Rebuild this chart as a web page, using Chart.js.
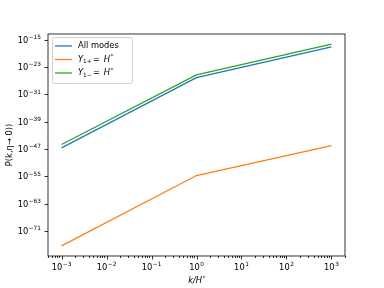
<!DOCTYPE html>
<html>
<head>
<meta charset="utf-8">
<script src="https://cdn.jsdelivr.net/npm/chart.js@4.4.1/dist/chart.umd.min.js"></script>
<style>
  html, body { margin: 0; padding: 0; background: #fff; }
  canvas { display: block; }
</style>
</head>
<body>
<canvas id="chart" width="384" height="288"></canvas>
<script>
// k/H* values
const kValues = [1e-3, 1, 1e3];
// power spectrum
const allModes = [2.0e-47, 7.9e-27, 7.9e-18];
const y1Plus = [4.0e-76, 1.6e-55, 1.0e-46];
const y1Minus = [2.0e-46, 5.0e-26, 5.0e-17];

const xTickExps = [-3, -2, -1, 0, 1, 2, 3];
const yTickExps = [-15, -23, -31, -39, -47, -55, -63, -71];

const FONT = 'DejaVu Sans';
const FS = 8.3;
const SFS = FS * 0.7;

const toPoints = ys => kValues.map((k, i) => ({ x: k, y: ys[i] }));

// "10^e" the way mathtext lays it out; align: 'right' or 'center'
function drawPow(ctx, e, x, y, align) {
  const exp = String(e).replace('-', '\u2212');
  ctx.font = FS + 'px ' + FONT;
  const wb = ctx.measureText('10').width;
  ctx.font = SFS + 'px ' + FONT;
  const we = ctx.measureText(exp).width;
  const w = wb + we + 0.5;
  let x0 = align === 'right' ? x - w : x - w / 2;
  ctx.textAlign = 'left';
  ctx.textBaseline = 'middle';
  ctx.font = FS + 'px ' + FONT;
  ctx.fillText('10', x0, y);
  ctx.font = SFS + 'px ' + FONT;
  ctx.fillText(exp, x0 + wb + 0.5, y - 3.2);
}

// matplotlib-like frame, ticks, labels, titles and legend
const mplPlugin = {
  id: 'mpl',
  afterDraw(chart) {
    const { ctx, chartArea: a } = chart;
    const xs = chart.scales.x, ys = chart.scales.y;
    ctx.save();
    ctx.strokeStyle = '#000';
    ctx.lineWidth = 0.8;
    ctx.strokeRect(a.left, a.top, a.right - a.left, a.bottom - a.top);

    // x ticks, major + minor
    ctx.beginPath();
    for (let e = -4; e <= 3; e++) {
      for (let m = 1; m <= 9; m++) {
        const v = m * Math.pow(10, e);
        if (v < xs.min || v > xs.max) continue;
        const px = Math.round(xs.getPixelForValue(v)) + 0.5;
        const len = m === 1 ? 3.5 : 2;
        ctx.moveTo(px, a.bottom);
        ctx.lineTo(px, a.bottom + len);
      }
    }
    yTickExps.forEach(e => {
      const py = Math.round(ys.getPixelForValue(Math.pow(10, e))) + 0.5;
      ctx.moveTo(a.left, py);
      ctx.lineTo(a.left - 3.5, py);
    });
    ctx.stroke();

    // tick labels
    ctx.fillStyle = '#000';
    xTickExps.forEach(e => {
      drawPow(ctx, e, xs.getPixelForValue(Math.pow(10, e)), a.bottom + 12, 'center');
    });
    yTickExps.forEach(e => {
      drawPow(ctx, e, a.left - 7, ys.getPixelForValue(Math.pow(10, e)) + 1, 'right');
    });

    // axis titles
    ctx.textBaseline = 'middle';
    ctx.font = 'italic ' + FS + 'px ' + FONT;
    const xt1 = 'k/H';
    const w1 = ctx.measureText(xt1).width;
    ctx.font = SFS + 'px ' + FONT;
    const w2 = ctx.measureText('*').width;
    let cx = (a.left + a.right) / 2 - (w1 + w2) / 2;
    ctx.textAlign = 'left';
    ctx.font = 'italic ' + FS + 'px ' + FONT;
    ctx.fillText(xt1, cx, 281);
    ctx.font = SFS + 'px ' + FONT;
    ctx.fillText('*', cx + w1 + 0.5, 278);

    ctx.save();
    ctx.translate(10, (a.top + a.bottom) / 2);
    ctx.rotate(-Math.PI / 2);
    ctx.textAlign = 'center';
    ctx.font = FS + 'px ' + FONT;
    ctx.fillText('P(k,\u03B7\u2192 0))', 0, 0);
    ctx.restore();

    // legend
    const lx = a.left + 4, ly = a.top + 3;
    ctx.fillStyle = 'rgba(255,255,255,0.8)';
    ctx.strokeStyle = '#d0d0d0';
    ctx.lineWidth = 1;
    ctx.beginPath();
    ctx.roundRect(lx + 0.5, ly + 0.5, 80, 46, 2);
    ctx.fill();
    ctx.stroke();
    chart.data.datasets.forEach((ds, i) => {
      const y = ly + 9 + i * 13.5;
      ctx.strokeStyle = ds.borderColor;
      ctx.lineWidth = 1.25;
      ctx.beginPath();
      ctx.moveTo(lx + 3, y);
      ctx.lineTo(lx + 20, y);
      ctx.stroke();
      ctx.fillStyle = '#000';
      ctx.textAlign = 'left';
      ctx.textBaseline = 'middle';
      let tx = lx + 26;
      if (i === 0) {
        ctx.font = FS + 'px ' + FONT;
        ctx.fillText(ds.label, tx, y);
      } else {
        ctx.font = 'italic ' + FS + 'px ' + FONT;
        ctx.fillText('Y', tx, y);
        tx += ctx.measureText('Y').width;
        ctx.font = SFS + 'px ' + FONT;
        const sub = i === 1 ? '1+' : '1\u2212';
        ctx.fillText(sub, tx, y + 2);
        tx += ctx.measureText(sub).width + 1.5;
        ctx.font = FS + 'px ' + FONT;
        ctx.fillText('=', tx, y);
        tx += ctx.measureText('= ').width + 1;
        ctx.font = 'italic ' + FS + 'px ' + FONT;
        ctx.fillText('H', tx, y);
        tx += ctx.measureText('H').width + 0.5;
        ctx.font = SFS + 'px ' + FONT;
        ctx.fillText('*', tx, y - 3);
      }
    });
    ctx.restore();
  }
};

new Chart(document.getElementById('chart'), {
  type: 'line',
  data: {
    datasets: [
      { label: 'All modes', data: toPoints(allModes), borderColor: '#1f77b4' },
      { label: 'Y1+ = H*', data: toPoints(y1Plus), borderColor: '#ff7f0e' },
      { label: 'Y1- = H*', data: toPoints(y1Minus), borderColor: '#2ca02c' },
    ],
  },
  options: {
    responsive: false,
    animation: false,
    devicePixelRatio: 1,
    layout: { padding: { top: 34, right: 39, left: 0, bottom: 0 } },
    elements: {
      point: { radius: 0 },
      line: { borderWidth: 1.25, tension: 0, fill: false },
    },
    plugins: { legend: { display: false }, tooltip: { enabled: false } },
    scales: {
      x: {
        type: 'logarithmic',
        position: 'bottom',
        bounds: 'data',
        min: 5.0e-4,
        max: 2.0e3,
        afterFit: s => { s.height = 32; },
        afterBuildTicks: s => { s.ticks = xTickExps.map(e => ({ value: Math.pow(10, e) })); },
        ticks: { display: false },
        grid: { display: false },
        border: { display: false },
      },
      y: {
        type: 'logarithmic',
        position: 'left',
        bounds: 'data',
        min: 4.4e-79,
        max: 4.6e-14,
        afterFit: s => { s.width = 48; },
        afterBuildTicks: s => { s.ticks = yTickExps.map(e => ({ value: Math.pow(10, e) })); },
        ticks: { display: false },
        grid: { display: false },
        border: { display: false },
      },
    },
  },
  plugins: [mplPlugin],
});
</script>
</body>
</html>
